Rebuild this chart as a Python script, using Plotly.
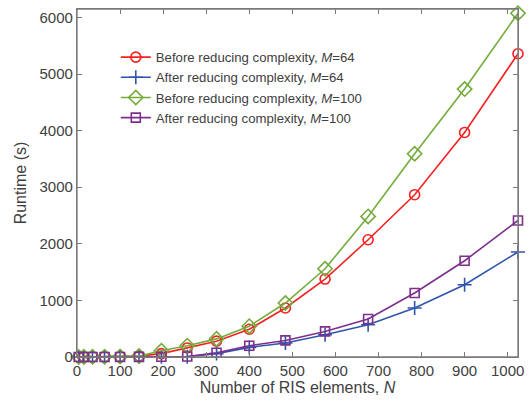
import plotly.graph_objects as go

N = [4, 16, 36, 64, 100, 144, 196, 256, 324, 400, 484, 576, 676, 784, 900, 1024]
before_64 = [1, 2, 3, 5, 8, 15, 60, 160, 280, 490, 866, 1378, 2072, 2868, 3968, 5360]
after_64 = [0, 0, 0, 1, 1, 2, 3, 5, 60, 170, 247, 394, 571, 866, 1277, 1855]
before_100 = [1, 2, 4, 6, 10, 18, 110, 200, 320, 545, 954, 1560, 2484, 3592, 4735, 6075]
after_100 = [0, 0, 0, 1, 1, 2, 4, 8, 75, 200, 293, 452, 671, 1131, 1701, 2413]

names = [
    "Before reducing complexity, <i>M</i>=64",
    "After reducing complexity, <i>M</i>=64",
    "Before reducing complexity, <i>M</i>=100",
    "After reducing complexity, <i>M</i>=100",
]
series = [before_64, after_64, before_100, after_100]
colors = ["#f52020", "#2f55aa", "#74ac3c", "#7d2f8e"]
symbols = ["circle-open", "cross-thin-open", "diamond-open", "square-open"]
sizes = [10, 10, 11, 9]

fig = go.Figure()
for y, nm, c, s, sz in zip(series, names, colors, symbols, sizes):
    fig.add_trace(go.Scatter(
        x=N, y=y, name=nm, mode="lines+markers", cliponaxis=False,
        line=dict(color=c, width=1.6),
        marker=dict(symbol=s, size=sz, color=c, line=dict(color=c, width=1.6)),
    ))

axis_common = dict(
    showline=True, linecolor="#7a7a7a", linewidth=1.3, mirror="allticks",
    ticks="inside", ticklen=5, tickcolor="#7a7a7a", tickwidth=1.2,
    showgrid=False, zeroline=False, automargin=False,
    tickfont=dict(family="Liberation Sans, Arial, sans-serif", size=15, color="#404040"),
)

fig.update_layout(
    width=529, height=401,
    margin=dict(l=77, r=11, t=9, b=44),
    paper_bgcolor="white", plot_bgcolor="white",
    font=dict(family="Liberation Sans, Arial, sans-serif", size=14, color="#404040"),
    xaxis=dict(range=[0, 1024], tickvals=list(range(0, 1001, 100)),
               title=dict(text="Number of RIS elements, <i>N</i>", standoff=2,
                          font=dict(size=16, color="#404040")),
               **axis_common),
    yaxis=dict(range=[0, 6150], tickvals=list(range(0, 6001, 1000)),
               title=dict(text="Runtime (s)", standoff=8,
                          font=dict(size=16, color="#404040")),
               **axis_common),
    legend=dict(x=0.088, y=0.905, xanchor="left", yanchor="top",
                bgcolor="rgba(255,255,255,0)", borderwidth=0,
                font=dict(size=13.2, color="#404040"), tracegroupgap=0,
                itemwidth=30),
    showlegend=True,
    shapes=[dict(type="rect", xref="paper", yref="paper", x0=0, x1=1, y0=0, y1=1,
                 line=dict(color="#7a7a7a", width=1.3), layer="above")],
)

fig.write_html("out.html", config={"displayModeBar": False},
               post_script="document.body.style.margin='0px';document.body.style.overflow='hidden';")
